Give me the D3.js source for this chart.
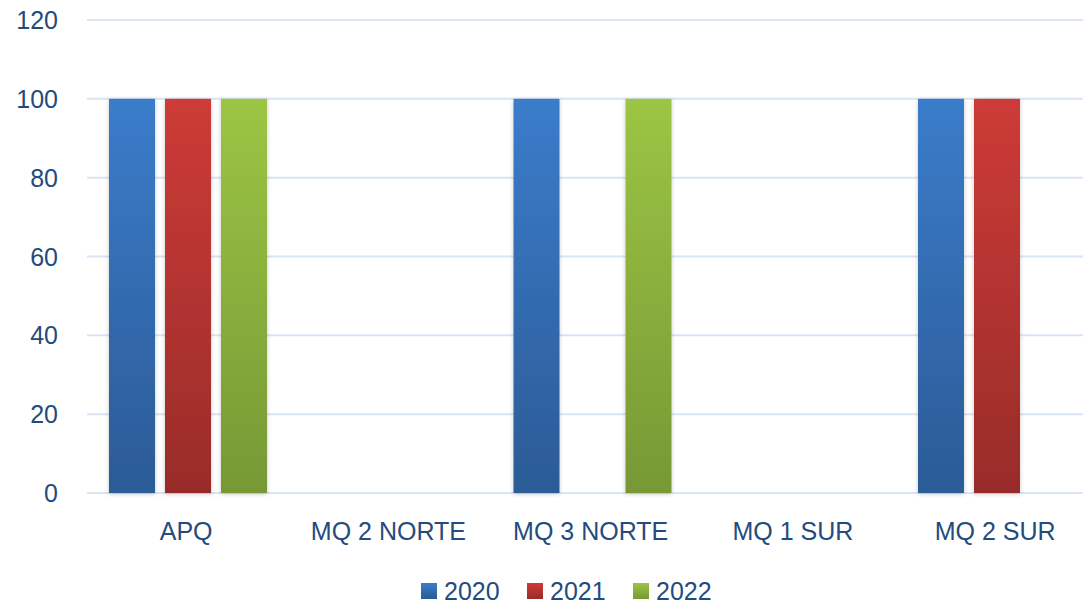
<!DOCTYPE html>
<html><head><meta charset="utf-8">
<script src="https://cdn.jsdelivr.net/npm/d3@7"></script>
<style>body{margin:0;background:#fff}svg{display:block}</style>
</head><body>
<svg id="c" width="1083" height="604"></svg>
<script>
const categories = ["APQ","MQ 2 NORTE","MQ 3 NORTE","MQ 1 SUR","MQ 2 SUR"];
const seriesNames = ["2020","2021","2022"];
const v2020 = [100,0,100,0,100];
const v2021 = [100,0,0,0,100];
const v2022 = [100,0,100,0,0];
const yTicks = [0,20,40,60,80,100,120];

const values = [v2020,v2021,v2022];
const colors = [["#3b7cca","#2b5b96"],["#cd3b37","#982c29"],["#9cc544","#779835"]];
const svg = d3.select("#c");
const W=1083,H=604;
const x0 = 87, step = 202.25;
const x = d3.scaleBand().domain(categories).range([x0, x0+step*categories.length]).paddingInner(0).paddingOuter(0);
const y = d3.scaleLinear().domain([0,120]).range([493,20]);
const font = "'Liberation Sans', Arial, sans-serif";
const tc = "#244b7c";
const fs = 25;

const defs = svg.append("defs");
colors.forEach((c,i)=>{
  const g = defs.append("linearGradient").attr("id","g"+i).attr("x1",0).attr("y1",0).attr("x2",0).attr("y2",1);
  g.append("stop").attr("offset","0%").attr("stop-color",c[0]);
  g.append("stop").attr("offset","100%").attr("stop-color",c[1]);
});
const f = defs.append("filter").attr("id","sh").attr("x","-20%").attr("y","-5%").attr("width","140%").attr("height","110%");
f.append("feDropShadow").attr("dx",0).attr("dy",1).attr("stdDeviation",2.2).attr("flood-color","#000").attr("flood-opacity",0.22);

// gridlines
svg.append("g").selectAll("line").data(yTicks).join("line")
  .attr("x1",87).attr("x2",W).attr("y1",d=>y(d)).attr("y2",d=>y(d))
  .attr("stroke","#d9e4f4").attr("stroke-width",2);

// y labels
svg.append("g").selectAll("text").data(yTicks).join("text")
  .attr("x",58).attr("y",d=>y(d)).attr("dy","0.36em").attr("text-anchor","end")
  .attr("font-family",font).attr("font-size",fs).attr("fill",tc).text(d=>d);

// bars
const x1 = d3.scaleBand().domain(seriesNames).range([22, 22+158]).paddingInner(10/56).paddingOuter(0);
const bars = [];
categories.forEach((c,ci)=>seriesNames.forEach((s,si)=>{ if(values[si][ci]>0) bars.push({c,s,si,v:values[si][ci]}); }));
svg.append("g").selectAll("rect").data(bars).join("rect")
  .attr("x",d=>x(d.c)+x1(d.s)).attr("width",x1.bandwidth())
  .attr("y",d=>y(d.v)).attr("height",d=>y(0)-y(d.v))
  .attr("fill",d=>"url(#g"+d.si+")").attr("filter","url(#sh)");

// x labels
svg.append("g").selectAll("text").data(categories).join("text")
  .attr("x",d=>x(d)+step/2 - 2).attr("y",540).attr("text-anchor","middle")
  .attr("font-family",font).attr("font-size",fs).attr("fill",tc).text(d=>d);

// legend
const lx = [421, 527, 633];
const lg = svg.append("g");
seriesNames.forEach((s,i)=>{
  lg.append("rect").attr("x",lx[i]).attr("y",583).attr("width",16).attr("height",16).attr("fill","url(#g"+i+")");
  lg.append("text").attr("x",lx[i]+23).attr("y",600).attr("font-family",font).attr("font-size",fs).attr("fill",tc).text(s);
});
</script>
</body></html>
